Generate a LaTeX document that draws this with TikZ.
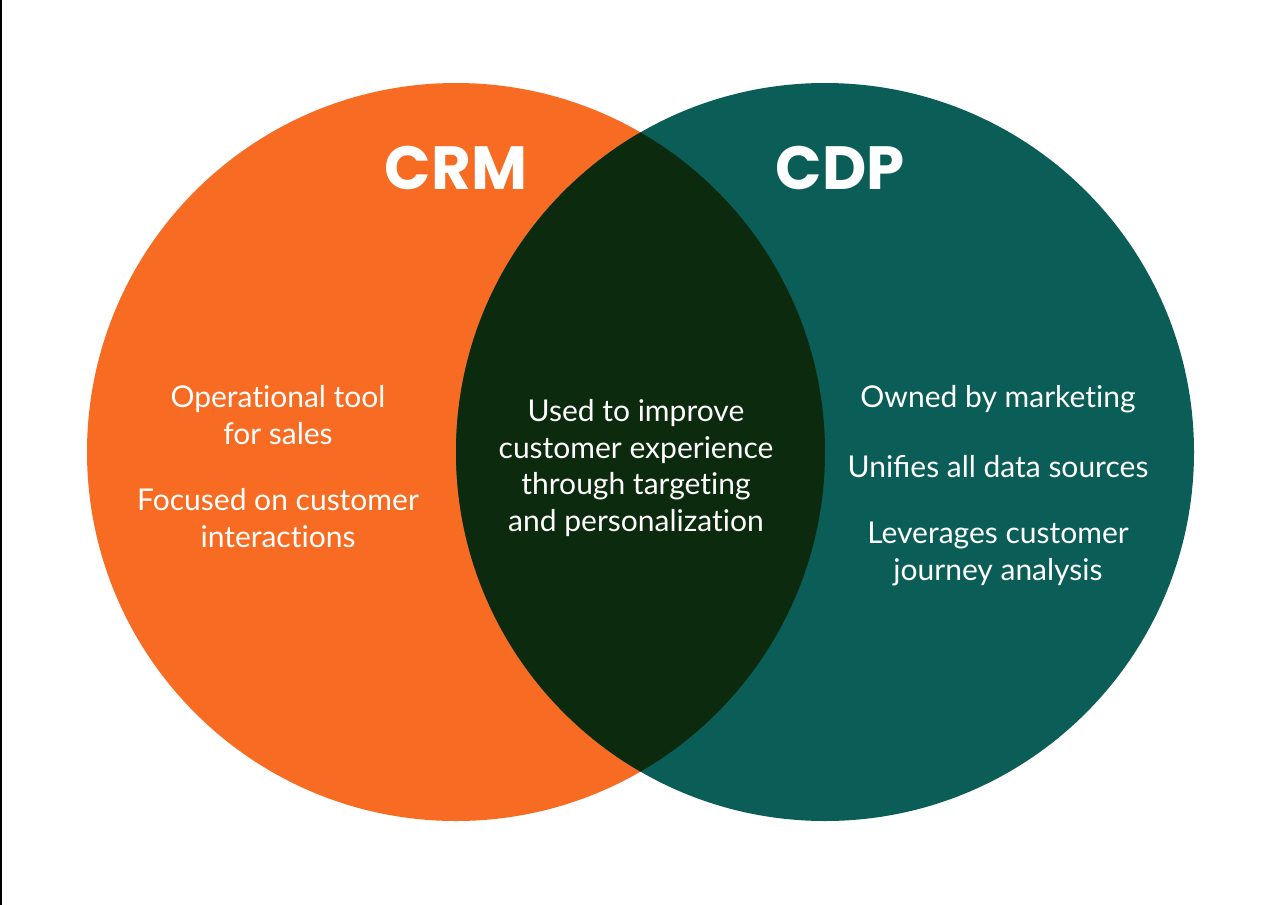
\documentclass[tikz,border=0pt]{standalone}
\usepackage{fontspec}
\setmainfont{Lato}
\newfontfamily\headfont{Poppins}[UprightFont=* Bold]
\newcommand\ti{t\kern0pt i}
\definecolor{crmorange}{HTML}{F76B22}
\definecolor{cdpteal}{HTML}{0B5E57}
\definecolor{overlapdark}{HTML}{0C2A0D}
\begin{document}
\begin{tikzpicture}[x=1pt,y=-1pt,
  venn/.style={circle, inner sep=0pt, minimum size=738pt, draw=none},
  head/.style={text=white, font=\headfont\fontsize{61}{63}\selectfont},
  body/.style={text=white, align=center, font=\fontsize{30}{36.5}\selectfont}]
\useasboundingbox (0,0) rectangle (1280,905);
\fill[white] (0,0) rectangle (1280,905);
\fill[black] (0,0) rectangle (1.5,905);
\node[venn, fill=crmorange] (crm) at (456,452) {};
\node[venn, fill=cdpteal] (cdp) at (825,452) {};
\begin{scope}
  \clip (456,452) circle (369);
  \fill[overlapdark] (825,452) circle (369);
\end{scope}
\node[head] (crmt) at (456,168) {CRM};
\node[head] (cdpt) at (840,168) {CDP};
\node[body] (l1) at (278,415) {Opera\ti onal tool\\for sales};
\node[body] (l2) at (278,518) {Focused on customer\\interac\ti ons};
\node[body] (m1) at (636,468) {Used to improve\\customer experience\\through targe\ti ng\\and personaliza\ti on};
\node[body] (r1) at (998,399) {Owned by marke\ti ng};
\node[body] (r2) at (998,467) {Unifies all data sources};
\node[body] (r3) at (998,554) {Leverages customer\\journey analysis};
\end{tikzpicture}
\end{document}
